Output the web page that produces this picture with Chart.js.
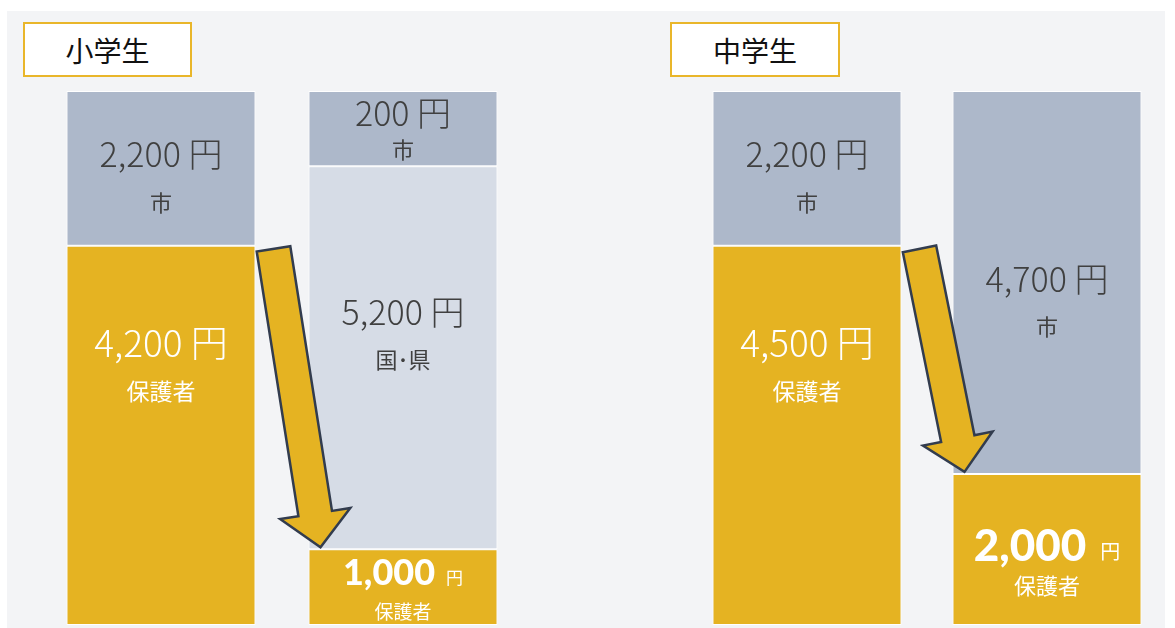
<!DOCTYPE html>
<html>
<head>
<meta charset="utf-8">
<script src="https://cdn.jsdelivr.net/npm/chart.js@4.4.1/dist/chart.umd.min.js"></script>
<style>
  body { margin: 0; background: #ffffff; width: 1175px; height: 628px; overflow: hidden; font-family: "Noto Sans CJK JP", "Noto Sans", sans-serif; }
  #bg { position: absolute; left: 7px; top: 11px; width: 1158px; height: 617px; background: #f3f4f6; }
  .tag { position: absolute; top: 22px; height: 51px; border: 2px solid #e9b62a; background: #fff; box-sizing: content-box;
         font-size: 28px; color: #111; text-align: center; line-height: 53px; }
  .box { position: absolute; top: 91px; height: 534px; }
</style>
</head>
<body>
<div id="bg"></div>
<div class="tag" style="left:23px;width:165px;">小学生</div>
<div class="tag" style="left:670px;width:166px;">中学生</div>
<div class="box" style="left:40px;width:484px;"><canvas id="chartElem"></canvas></div>
<div class="box" style="left:687px;width:480px;"><canvas id="chartMid"></canvas></div>

<script>
// bars: [now, after] for each school type
var bars = ['現行', '改定後'];

// yen amounts shown on the segments (null = no segment)
var elemParentYen = [4200, 1000];
var elemNationYen = [null, 5200];
var elemCityYen   = [2200, 200];
var midParentYen  = [4500, 2000];
var midCityYen    = [2200, 4700];

// segment heights as drawn in the picture (share of bar, %)
var elemParentH = [71, 14.2];
var elemNationH = [0, 71.7];
var elemCityH   = [29, 14.1];
var midParentH  = [71, 28.3];
var midCityH    = [29, 71.7];

var YELLOW = '#e5b322';
var GRAY = '#adb8ca';
var LIGHT = '#d6dce6';

// where the amount sits inside each segment (fraction from top), per dataset/bar
var elemLabelAt = [[0.256, 0.32], [0, 0.38], [0.41, 0.29]];
var midLabelAt  = [[0.256, 0.48], [0.41, 0.49]];

function fmt(v) {
  return v.toLocaleString('en-US');
}

var labelPlugin = {
  id: 'segLabels',
  afterDatasetsDraw: function(chart, args, opts) {
    var ctx = chart.ctx;
    ctx.save();
    ctx.textBaseline = 'middle';
    chart.data.datasets.forEach(function(ds, di) {
      var meta = chart.getDatasetMeta(di);
      meta.data.forEach(function(el, i) {
        var yen = ds.yen[i];
        if (yen == null) return;
        var top = Math.min(el.y, el.base);
        var h = Math.abs(el.base - el.y);
        var y = top + opts.at[di][i] * h;
        var onYellow = ds.backgroundColor == YELLOW;
        ctx.fillStyle = onYellow ? '#ffffff' : '#404040';
        var heavy = onYellow && h < 200;
        if (heavy) {
          // big bold number + small 円
          var big = h < 100 ? 36 : 44;
          var small = h < 100 ? 17 : 20;
          var gap = h < 100 ? 11 : 14;
          ctx.font = '900 ' + big + 'px Lato, Roboto, "Noto Sans", sans-serif';
          var w1 = ctx.measureText(fmt(yen)).width;
          ctx.font = small + 'px "Noto Sans CJK JP"';
          var w2 = ctx.measureText('円').width;
          var x0 = el.x - (w1 + gap + w2) / 2;
          ctx.textAlign = 'left';
          ctx.font = '900 ' + big + 'px Lato, Roboto, "Noto Sans", sans-serif';
          ctx.fillText(fmt(yen), x0, y);
          ctx.font = small + 'px "Noto Sans CJK JP"';
          ctx.fillText('円', x0 + w1 + gap, y + big * 0.12);
          ctx.textAlign = 'center';
          ctx.font = (h < 100 ? 19 : 22) + 'px "Noto Sans CJK JP"';
          ctx.fillText(ds.label, el.x, y + (h < 100 ? 38 : 39));
        } else {
          var size = onYellow ? 37 : 34;
          ctx.textAlign = 'center';
          ctx.font = '300 ' + size + 'px "Noto Sans CJK JP"';
          ctx.fillText(fmt(yen) + ' 円', el.x, y);
          ctx.font = (onYellow ? 23 : 22) + 'px "Noto Sans CJK JP"';
          ctx.fillText(ds.label, el.x, y + (h < 100 ? 37 : 48));
        }
      });
    });
    ctx.restore();
  }
};

// arrow from the parent's share now to the parent's share after
var arrowPlugin = {
  id: 'arrow',
  afterDraw: function(chart) {
    var meta = chart.getDatasetMeta(0);
    var a = meta.data[0], b = meta.data[1];
    var sx = a.x + a.width / 2 + 18, sy = a.y + 3;
    var tx = b.x - b.width / 2 + 12, ty = b.y - 2;
    var dx = tx - sx, dy = ty - sy;
    var len = Math.sqrt(dx * dx + dy * dy);
    dx /= len; dy /= len;
    var nx = -dy, ny = dx;
    var half = 17, wing = 35.5, head = 34;
    var kx = tx - dx * head, ky = ty - dy * head;
    var ctx = chart.ctx;
    ctx.save();
    ctx.beginPath();
    ctx.moveTo(sx + nx * half, sy + ny * half);
    ctx.lineTo(kx + nx * half, ky + ny * half);
    ctx.lineTo(kx + nx * wing, ky + ny * wing);
    ctx.lineTo(tx, ty);
    ctx.lineTo(kx - nx * wing, ky - ny * wing);
    ctx.lineTo(kx - nx * half, ky - ny * half);
    ctx.lineTo(sx - nx * half, sy - ny * half);
    ctx.closePath();
    ctx.fillStyle = YELLOW;
    ctx.fill();
    ctx.lineWidth = 2.5;
    ctx.lineJoin = 'miter';
    ctx.strokeStyle = '#323c4e';
    ctx.stroke();
    ctx.restore();
  }
};

function makeChart(id, datasets, labelAt, barPct) {
  datasets.forEach(function(ds) {
    ds.borderColor = '#ffffff';
    ds.borderWidth = 1;
    ds.borderSkipped = false;
    ds.categoryPercentage = 1;
    ds.barPercentage = barPct;
  });
  return new Chart(document.getElementById(id), {
    type: 'bar',
    data: { labels: bars, datasets: datasets },
    options: {
      responsive: true,
      maintainAspectRatio: false,
      animation: false,
      layout: { padding: 0 },
      scales: {
        x: { stacked: true, display: false },
        y: { stacked: true, display: false, min: 0, max: 100 }
      },
      plugins: {
        legend: { display: false },
        tooltip: { enabled: false },
        segLabels: { at: labelAt }
      }
    },
    plugins: [labelPlugin, arrowPlugin]
  });
}

makeChart('chartElem', [
  { label: '保護者', data: elemParentH, yen: elemParentYen, backgroundColor: YELLOW },
  { label: '国･県', data: elemNationH, yen: elemNationYen, backgroundColor: LIGHT },
  { label: '市', data: elemCityH, yen: elemCityYen, backgroundColor: GRAY }
], elemLabelAt, 0.781);

makeChart('chartMid', [
  { label: '保護者', data: midParentH, yen: midParentYen, backgroundColor: YELLOW },
  { label: '市', data: midCityH, yen: midCityYen, backgroundColor: GRAY }
], midLabelAt, 0.7875);
</script>
</body>
</html>
